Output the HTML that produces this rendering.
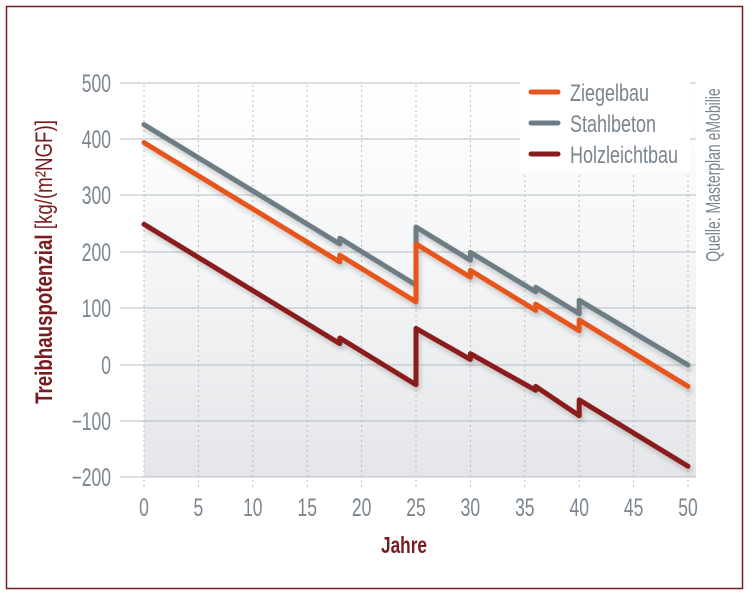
<!DOCTYPE html>
<html><head><meta charset="utf-8"><style>
html,body{margin:0;padding:0;background:#fff;}
svg{display:block;font-family:"Liberation Sans",sans-serif;}
</style></head><body>
<svg width="750" height="595" viewBox="0 0 750 595">
<defs>
<linearGradient id="bg" x1="0" y1="0" x2="0" y2="1">
<stop offset="0" stop-color="#ffffff"/><stop offset="0.4" stop-color="#f6f7f8"/><stop offset="1" stop-color="#e4e6e9"/>
</linearGradient>
<filter id="sh" x="-10%" y="-10%" width="120%" height="130%">
<feDropShadow dx="2" dy="4" stdDeviation="2.5" flood-color="#000" flood-opacity="0.18"/>
</filter>
</defs>
<rect x="6.5" y="6.5" width="736" height="582" fill="#fff" stroke="#7a1c1f" stroke-width="1.5"/>
<rect x="144" y="83" width="552" height="394" fill="url(#bg)"/>
<g stroke="#b8bec4" stroke-width="1">
<line x1="120" x2="696" y1="83" y2="83"/><line x1="120" x2="696" y1="139" y2="139"/>
<line x1="120" x2="696" y1="195" y2="195"/><line x1="120" x2="696" y1="252" y2="252"/>
<line x1="120" x2="696" y1="308" y2="308"/><line x1="120" x2="696" y1="365" y2="365"/>
<line x1="120" x2="696" y1="421" y2="421"/><line x1="120" x2="696" y1="477" y2="477"/>
</g>
<g stroke="#b8bec4" stroke-width="1" stroke-dasharray="2,3">
<line x1="144" x2="144" y1="85" y2="487"/><line x1="198.4" x2="198.4" y1="85" y2="487"/>
<line x1="252.8" x2="252.8" y1="85" y2="487"/><line x1="307.2" x2="307.2" y1="85" y2="487"/>
<line x1="361.6" x2="361.6" y1="85" y2="487"/><line x1="416" x2="416" y1="85" y2="487"/>
<line x1="470.4" x2="470.4" y1="85" y2="487"/><line x1="524.8" x2="524.8" y1="85" y2="487"/>
<line x1="579.2" x2="579.2" y1="85" y2="487"/><line x1="633.6" x2="633.6" y1="85" y2="487"/>
<line x1="688" x2="688" y1="85" y2="487"/>
</g>
<rect x="520" y="70" width="170" height="102" fill="#fff"/>
<g fill="#7a858e" font-size="25" text-anchor="end">
<text x="111" y="92" transform="translate(111 0) scale(0.7 1) translate(-111 0)">500</text>
<text x="111" y="148" transform="translate(111 0) scale(0.7 1) translate(-111 0)">400</text>
<text x="111" y="204" transform="translate(111 0) scale(0.7 1) translate(-111 0)">300</text>
<text x="111" y="261" transform="translate(111 0) scale(0.7 1) translate(-111 0)">200</text>
<text x="111" y="317" transform="translate(111 0) scale(0.7 1) translate(-111 0)">100</text>
<text x="111" y="374" transform="translate(111 0) scale(0.7 1) translate(-111 0)">0</text>
<text x="111" y="430" transform="translate(111 0) scale(0.7 1) translate(-111 0)">−100</text>
<text x="111" y="486" transform="translate(111 0) scale(0.7 1) translate(-111 0)">−200</text>
</g>
<g fill="#7a858e" font-size="25" text-anchor="middle">
<text x="144" y="516" transform="translate(144 0) scale(0.7 1) translate(-144 0)">0</text>
<text x="198.4" y="516" transform="translate(198.4 0) scale(0.7 1) translate(-198.4 0)">5</text>
<text x="252.8" y="516" transform="translate(252.8 0) scale(0.7 1) translate(-252.8 0)">10</text>
<text x="307.2" y="516" transform="translate(307.2 0) scale(0.7 1) translate(-307.2 0)">15</text>
<text x="361.6" y="516" transform="translate(361.6 0) scale(0.7 1) translate(-361.6 0)">20</text>
<text x="416" y="516" transform="translate(416 0) scale(0.7 1) translate(-416 0)">25</text>
<text x="470.4" y="516" transform="translate(470.4 0) scale(0.7 1) translate(-470.4 0)">30</text>
<text x="524.8" y="516" transform="translate(524.8 0) scale(0.7 1) translate(-524.8 0)">35</text>
<text x="579.2" y="516" transform="translate(579.2 0) scale(0.7 1) translate(-579.2 0)">40</text>
<text x="633.6" y="516" transform="translate(633.6 0) scale(0.7 1) translate(-633.6 0)">45</text>
<text x="688" y="516" transform="translate(688 0) scale(0.7 1) translate(-688 0)">50</text>
</g>
<text x="404" y="553" fill="#7a1c1f" font-size="23" font-weight="bold" text-anchor="middle" transform="translate(404 0) scale(0.75 1) translate(-404 0)">Jahre</text>
<text transform="translate(52 262) rotate(-90) scale(0.78 1)" fill="#7a1c1f" font-size="24" text-anchor="middle"><tspan font-weight="bold">Treibhauspotenzial</tspan> [kg/(m²NGF)]</text>
<text transform="translate(720 175) rotate(-90) scale(0.7 1)" fill="#7a858e" font-size="20" text-anchor="middle">Quelle: Masterplan eMobilie</text>
<g fill="none" stroke-width="5" stroke-linejoin="round" stroke-linecap="round" filter="url(#sh)">
<polyline stroke="#6e7b84" points="144,124.6 339.8,244 339.8,238.3 416,285 416,227 470.4,260.3 470.4,252.4 535.7,291.8 535.7,287.3 579.2,313.8 579.2,300.3 688,365"/>
<polyline stroke="#e8541a" points="144,142.6 339.8,262 339.8,255.2 416,301.9 416,244 470.4,277.2 470.4,270.4 535.7,310.4 535.7,304.2 579.2,330.7 579.2,320 688,386.4"/>
<polyline stroke="#8a1a1e" points="144,224.3 339.8,343.6 339.8,338 416,384.7 416,328.4 470.4,359.4 470.4,353.7 535.7,390.3 535.7,386.4 579.2,415.7 579.2,399.9 688,466.3"/>
</g>
<g stroke-width="5" stroke-linecap="round">
<line x1="531" x2="558" y1="92" y2="92" stroke="#e8541a"/>
<line x1="531" x2="558" y1="123" y2="123" stroke="#6e7b84"/>
<line x1="531" x2="558" y1="154" y2="154" stroke="#8a1a1e"/>
</g>
<g fill="#7a858e" font-size="24">
<text x="570" y="101" transform="translate(570 0) scale(0.75 1) translate(-570 0)">Ziegelbau</text>
<text x="570" y="132" transform="translate(570 0) scale(0.75 1) translate(-570 0)">Stahlbeton</text>
<text x="570" y="163" transform="translate(570 0) scale(0.75 1) translate(-570 0)">Holzleichtbau</text>
</g>
</svg>
</body></html>
